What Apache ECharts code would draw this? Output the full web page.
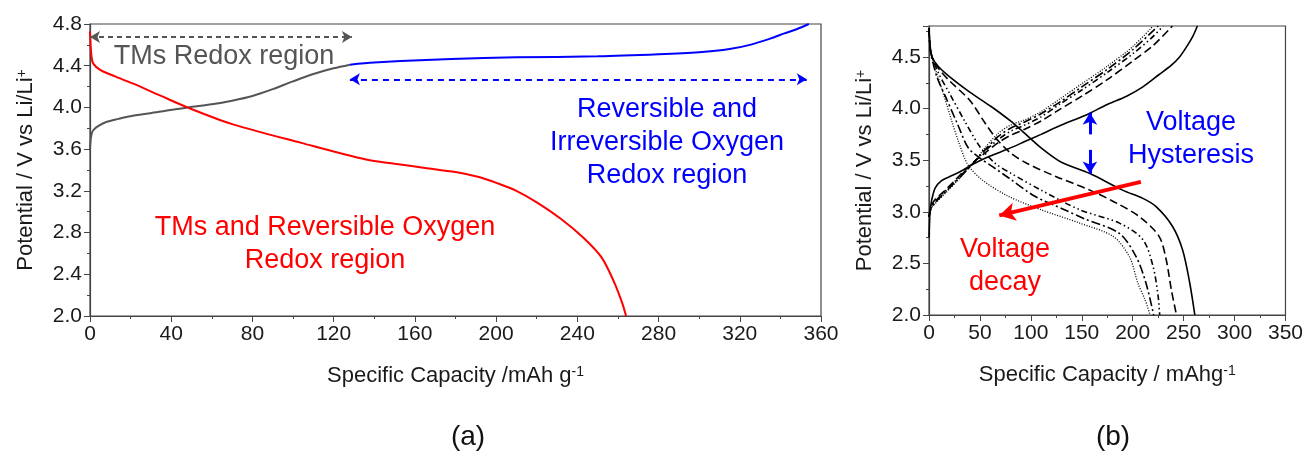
<!DOCTYPE html>
<html>
<head>
<meta charset="utf-8">
<script src="https://cdn.jsdelivr.net/npm/echarts@6/dist/echarts.min.js"></script>
<style>
  html, body { margin: 0; padding: 0; background: #fff; }
  #chart { width: 1306px; height: 461px; }
</style>
</head>
<body>
<div id="chart"></div>
<script>
var chartDom = document.getElementById('chart');
var myChart = echarts.init(chartDom);

// ---- panel (a): first cycle, [capacity mAh/g, potential V]
var chargeTM = [[0, 3.6], [0.4, 3.7], [1, 3.76], [2, 3.79], [4, 3.82], [8, 3.86], [14, 3.89], [21, 3.92], [35, 3.96], [48, 4.0], [60, 4.03], [70, 4.065], [80, 4.11], [90, 4.175], [100, 4.25], [110, 4.32], [120, 4.375], [128, 4.41]];
var chargeOxygen = [[128, 4.41], [140, 4.43], [153, 4.445], [178, 4.465], [210, 4.48], [250, 4.49], [280, 4.51], [300, 4.53], [315, 4.56], [325, 4.6], [335, 4.66], [342, 4.71], [348, 4.75], [354, 4.8]];
var discharge1 = [[0, 4.73], [0.3, 4.6], [0.8, 4.48], [1.6, 4.42], [5, 4.36], [12, 4.3], [21, 4.23], [35, 4.11], [48, 4.0], [70, 3.84], [104, 3.66], [136, 3.5], [150, 3.46], [165, 3.42], [180, 3.38], [192, 3.33], [201, 3.27], [210, 3.2], [220, 3.09], [232, 2.93], [243, 2.75], [252, 2.56], [258, 2.33], [262, 2.13], [264, 2.0]];

// ---- panel (b): cycles 1..5 charge / discharge
var charge = [
  [[0, 2.75], [0.5, 2.9], [1, 3.0], [2.6, 3.11], [6, 3.23], [12, 3.3], [20, 3.34], [29, 3.38], [45, 3.47], [60, 3.54], [78, 3.61], [94, 3.68], [110, 3.75], [130, 3.84], [150, 3.92], [158, 3.955], [175, 4.04], [194, 4.12], [210, 4.21], [226, 4.33], [238, 4.42], [246, 4.5], [253, 4.6], [259, 4.7], [263.5, 4.8]],
  [[0, 2.95], [2, 3.05], [6, 3.12], [15, 3.2], [25, 3.3], [35, 3.4], [45, 3.49], [55, 3.57], [68, 3.67], [80, 3.74], [94, 3.8], [110, 3.88], [128, 3.99], [150, 4.12], [175, 4.28], [200, 4.46], [220, 4.61], [239, 4.8]],
  [[0, 2.95], [2, 3.04], [6, 3.1], [15, 3.19], [25, 3.29], [35, 3.39], [45, 3.49], [55, 3.59], [68, 3.7], [80, 3.78], [94, 3.84], [110, 3.92], [128, 4.04], [150, 4.18], [175, 4.35], [200, 4.53], [218, 4.68], [230, 4.8]],
  [[0, 2.95], [2, 3.03], [6, 3.09], [15, 3.18], [25, 3.28], [35, 3.38], [45, 3.49], [55, 3.6], [68, 3.73], [80, 3.81], [94, 3.87], [110, 3.95], [128, 4.06], [150, 4.21], [175, 4.38], [200, 4.57], [225, 4.8]],
  [[0, 2.95], [2, 3.03], [6, 3.08], [15, 3.17], [25, 3.27], [35, 3.38], [45, 3.49], [55, 3.62], [68, 3.76], [80, 3.84], [94, 3.89], [110, 3.97], [128, 4.09], [150, 4.24], [175, 4.41], [200, 4.6], [220, 4.8]]
];
var discharge = [
  [[0, 4.78], [1, 4.62], [3, 4.5], [9, 4.41], [20, 4.31], [40, 4.16], [61, 4.02], [80, 3.88], [94, 3.76], [110, 3.62], [130, 3.48], [158, 3.37], [190, 3.21], [210, 3.13], [223, 3.05], [239, 2.86], [249, 2.63], [256, 2.31], [261, 2.0]],
  [[0, 4.78], [1, 4.6], [3, 4.5], [10, 4.38], [20, 4.27], [40, 4.08], [55, 3.86], [66, 3.71], [80, 3.57], [96, 3.47], [125, 3.34], [158, 3.21], [185, 3.08], [207, 2.95], [226, 2.76], [233, 2.53], [238, 2.24], [243, 2.0]],
  [[0, 4.78], [1, 4.6], [3, 4.5], [10, 4.33], [20, 4.15], [35, 3.88], [50, 3.63], [65, 3.47], [81, 3.37], [110, 3.21], [148, 3.02], [187, 2.89], [210, 2.73], [220, 2.47], [225, 2.18], [226.5, 2.0]],
  [[0, 4.78], [1, 4.58], [3, 4.48], [8, 4.3], [16, 4.12], [28, 3.85], [38.5, 3.62], [50, 3.52], [62, 3.44], [78, 3.33], [104, 3.15], [133, 3.02], [153, 2.93], [187, 2.79], [203.6, 2.56], [213, 2.31], [220.6, 2.0]],
  [[0, 4.78], [1, 4.6], [2, 4.55], [5, 4.42], [12, 4.21], [22, 3.89], [29, 3.68], [38, 3.46], [52, 3.31], [78, 3.15], [110, 3.02], [148, 2.89], [181, 2.76], [197, 2.56], [205, 2.31], [212, 2.15], [217, 2.0]]
];
var cycleDash = ['solid', [8, 4], [6, 3, 1.5, 3, 1.5, 3], [9, 3, 2, 3], [1, 1.6]];

// arrows (data coordinates)
var tmArrow = [[0, 4.675], [129, 4.675]];
var oxArrow = [[128, 4.27], [353, 4.27]];
var hystUp = [[158, 3.75], [158, 3.96]];
var hystDown = [[158, 3.6], [158, 3.37]];
var decayArrow = [[208, 3.29], [69, 2.965]];

var font = 'Liberation Sans, Arial, sans-serif';
var axisColor = '#444';

function axisCommon(extra) {
  var a = {
    type: 'value',
    axisLine: { show: true, onZero: false, lineStyle: { color: axisColor, width: 1.2 } },
    axisTick: { show: true, inside: false, length: 6, lineStyle: { color: axisColor } },
    minorTick: { show: true, splitNumber: 2, length: 3, lineStyle: { color: axisColor } },
    splitLine: { show: false },
    axisLabel: { color: '#1a1a1a', fontSize: 21, fontFamily: font, margin: 8 },
    nameLocation: 'middle',
    nameTextStyle: { color: '#1a1a1a', fontFamily: font }
  };
  for (var k in extra) a[k] = extra[k];
  return a;
}

var supRich = {
  n: { fontSize: 22, color: '#1a1a1a', fontFamily: font },
  s: { fontSize: 14, color: '#1a1a1a', fontFamily: font, verticalAlign: 'top' }
};

function fmt1(v) { return v.toFixed(1); }

function arrowLine(pts, color, type, width, syms, size) {
  return {
    silent: true,
    symbol: syms,
    symbolSize: size,
    label: { show: false },
    lineStyle: { color: color, type: type, width: width },
    data: [[{ coord: pts[0] }, { coord: pts[1] }]]
  };
}

var series = [
  {
    type: 'line', xAxisIndex: 0, yAxisIndex: 0, data: chargeTM, showSymbol: false,
    smooth: 0.3, lineStyle: { color: '#555', width: 2 },
    markLine: arrowLine(tmArrow, '#555', [5, 4], 2, ['arrow', 'arrow'], [9, 10])
  },
  {
    type: 'line', xAxisIndex: 0, yAxisIndex: 0, data: chargeOxygen, showSymbol: false,
    smooth: 0.3, lineStyle: { color: '#0000ff', width: 2 },
    markLine: arrowLine(oxArrow, '#0000ff', [6, 5], 2, ['arrow', 'arrow'], [9, 10])
  },
  {
    type: 'line', xAxisIndex: 0, yAxisIndex: 0, data: discharge1, showSymbol: false,
    smooth: 0.3, lineStyle: { color: '#ff0000', width: 2 }
  }
];

for (var i = 0; i < 5; i++) {
  var w = i === 4 ? 1.3 : 1.6;
  series.push({
    type: 'line', xAxisIndex: 1, yAxisIndex: 1, data: charge[i], showSymbol: false,
    smooth: 0.3, lineStyle: { color: '#000', width: w, type: cycleDash[i] }
  });
  series.push({
    type: 'line', xAxisIndex: 1, yAxisIndex: 1, data: discharge[i], showSymbol: false,
    smooth: 0.3, lineStyle: { color: '#000', width: w, type: cycleDash[i] }
  });
}
// hysteresis and decay arrows on panel (b)
series[4].markLine = {
  silent: true, label: { show: false }, symbolSize: [11, 12],
  data: [
    [{ coord: hystUp[0], symbol: 'none', lineStyle: { color: '#0000ff', width: 3, type: 'solid' } },
     { coord: hystUp[1], symbol: 'arrow' }],
    [{ coord: hystDown[0], symbol: 'none', lineStyle: { color: '#0000ff', width: 3, type: 'solid' } },
     { coord: hystDown[1], symbol: 'arrow' }],
    [{ coord: decayArrow[0], symbol: 'none', lineStyle: { color: '#ff0000', width: 4, type: 'solid' } },
     { coord: decayArrow[1], symbol: 'arrow', symbolSize: [14, 16] }]
  ]
};

function txt(text, x, y, color, size) {
  return {
    type: 'text', x: x, y: y, silent: true,
    style: {
      text: text, fill: color, font: size + 'px ' + font,
      textAlign: 'center', textVerticalAlign: 'middle', lineHeight: 33
    }
  };
}

var option = {
  animation: false,
  backgroundColor: '#fff',
  textStyle: { fontFamily: font },
  grid: [
    { left: 90, top: 24, width: 731, height: 292, show: true, borderColor: axisColor, borderWidth: 1.2, backgroundColor: 'transparent' },
    { left: 929, top: 26, width: 357, height: 289, show: true, borderColor: axisColor, borderWidth: 1.2, backgroundColor: 'transparent' }
  ],
  xAxis: [
    axisCommon({ gridIndex: 0, min: 0, max: 360, interval: 40, nameGap: 49,
      name: '{n|Specific Capacity /mAh g}{s|-1}', nameTextStyle: { rich: supRich } }),
    axisCommon({ gridIndex: 1, min: 0, max: 350, interval: 50, nameGap: 49,
      name: '{n|Specific Capacity / mAhg}{s|-1}', nameTextStyle: { rich: supRich } })
  ],
  yAxis: [
    axisCommon({ gridIndex: 0, min: 2.0, max: 4.8, interval: 0.4, nameGap: 53,
      axisLabel: { color: '#1a1a1a', fontSize: 21, fontFamily: font, margin: 8, formatter: fmt1 },
      name: '{n|Potential / V vs Li/Li}{s|+}', nameTextStyle: { rich: supRich } }),
    axisCommon({ gridIndex: 1, min: 2.0, max: 4.8, interval: 0.5, nameGap: 53,
      axisLabel: { color: '#1a1a1a', fontSize: 21, fontFamily: font, margin: 8, formatter: fmt1, showMaxLabel: false },
      name: '{n|Potential / V vs Li/Li}{s|+}', nameTextStyle: { rich: supRich } })
  ],
  graphic: [
    txt('TMs Redox region', 224, 57, '#555', 27),
    txt('Reversible and\nIrreversible Oxygen\nRedox region', 667, 143, '#0000ff', 27),
    txt('TMs and Reversible Oxygen\nRedox region', 325, 244, '#ff0000', 27),
    txt('Voltage\nHysteresis', 1191, 139, '#0000ff', 27),
    txt('Voltage\ndecay', 1005, 266, '#ff0000', 27),
    txt('(a)', 468, 437, '#111', 28),
    txt('(b)', 1113, 437, '#111', 28)
  ],
  series: series
};

myChart.setOption(option);
</script>
</body>
</html>
